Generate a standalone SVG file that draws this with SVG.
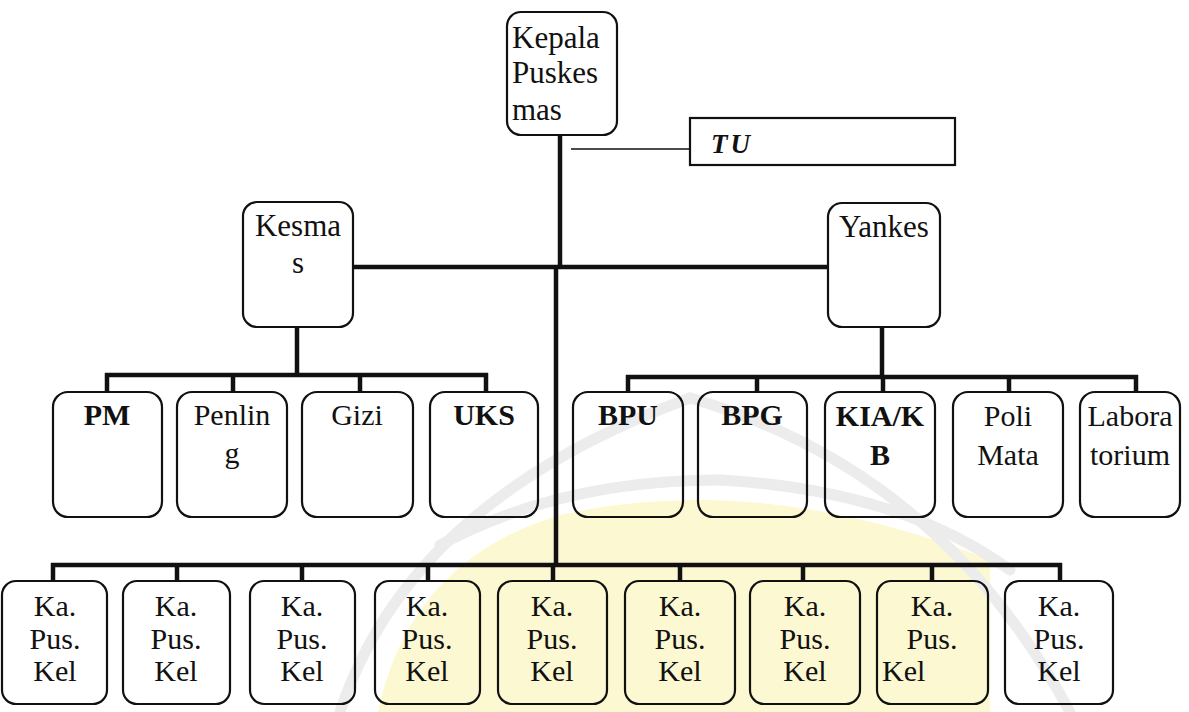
<svg xmlns="http://www.w3.org/2000/svg" width="1189" height="712" viewBox="0 0 1189 712">
<style>
.box{fill:none;stroke:#111;stroke-width:2.2}
.t{font-family:"Liberation Serif","Times New Roman",serif;font-size:30px;fill:#111;text-anchor:middle}
.tl{text-anchor:start}
.b{font-weight:bold}
.big{font-size:31px}
.con{stroke:#111;stroke-width:4.5;fill:none}
.thin{stroke:#111;stroke-width:1.6;fill:none}
.wm{fill:none;stroke:#ececec;stroke-width:11;stroke-linecap:round}
</style>
<rect width="1189" height="712" fill="#fff"/>
<g id="watermark">
<path d="M378,712 Q410,560 560,515 Q760,470 990,560 L990,712 Z" fill="#fcf8d2"/>
<path class="wm" d="M340,712 Q410,500 690,398"/>
<path class="wm" d="M690,398 Q940,470 1070,712"/>
<path class="wm" d="M440,545 Q560,480 720,480"/>
<path class="wm" d="M720,480 Q900,490 1010,570"/>
</g>
<g id="connectors">
<path class="con" d="M560,135 V268"/>
<path class="con" d="M556,266 V567"/>
<path class="con" d="M353,267 H828"/>
<path class="con" d="M297,327 V375 M105,375 H488 M107,373 V392 M233,373 V392 M360,373 V392 M486,373 V392"/>
<path class="con" d="M882,327 V377 M626,377 H1138 M628,375 V392 M757,375 V392 M883,375 V392 M1009,375 V392 M1136,375 V392"/>
<path class="con" d="M51,565 H1062 M53,563 V581 M177,563 V581 M302,563 V581 M428,563 V581 M553,563 V581 M680,563 V581 M803,563 V581 M932,563 V581 M1060,563 V581"/>
<path class="thin" d="M571,149 H690"/>
</g>
<g id="kepala"><rect class="box" x="507" y="12" width="110" height="123" rx="14"/>
<text class="t tl big" x="512" y="48">Kepala</text><text class="t tl big" x="512" y="83">Puskes</text><text class="t tl big" x="512" y="120">mas</text></g>
<g id="tu"><rect class="box" x="690" y="118" width="265" height="47"/>
<text class="t tl b" x="711" y="153" style="font-style:italic;font-size:27px;letter-spacing:3px">TU</text></g>
<g id="kesmas"><rect class="box" x="243" y="202" width="110" height="125" rx="14"/>
<text class="t big" x="298" y="236">Kesma</text><text class="t big" x="298" y="273">s</text></g>
<g id="yankes"><rect class="box" x="828" y="203" width="112" height="124" rx="14"/>
<text class="t big" x="884" y="237">Yankes</text></g>
<g id="pm"><rect class="box" x="53" y="392" width="109" height="125" rx="15"/><text class="t b" x="107" y="425">PM</text></g>
<g id="penling"><rect class="box" x="177" y="392" width="110" height="125" rx="15"/><text class="t" x="232" y="425">Penlin</text><text class="t" x="232" y="463">g</text></g>
<g id="gizi"><rect class="box" x="302" y="392" width="111" height="125" rx="15"/><text class="t" x="357" y="425">Gizi</text></g>
<g id="uks"><rect class="box" x="430" y="392" width="108" height="125" rx="15"/><text class="t b" x="484" y="425">UKS</text></g>
<g id="bpu"><rect class="box" x="573" y="392" width="110" height="125" rx="15"/><text class="t b" x="628" y="425">BPU</text></g>
<g id="bpg"><rect class="box" x="698" y="392" width="109" height="125" rx="15"/><text class="t b" x="752" y="425">BPG</text></g>
<g id="kia"><rect class="box" x="825" y="392" width="110" height="125" rx="15"/><text class="t b" x="880" y="426">KIA/K</text><text class="t b" x="880" y="465">B</text></g>
<g id="poli"><rect class="box" x="953" y="392" width="110" height="125" rx="15"/><text class="t" x="1008" y="426">Poli</text><text class="t" x="1008" y="465">Mata</text></g>
<g id="lab"><rect class="box" x="1080" y="392" width="100" height="125" rx="15"/><text class="t" x="1130" y="426">Labora</text><text class="t" x="1130" y="465">torium</text></g>
<g id="kel1"><rect class="box" x="2" y="581" width="105" height="123" rx="14"/><text class="t" x="55" y="616">Ka.</text><text class="t" x="55" y="649">Pus.</text><text class="t" x="55" y="681">Kel</text></g>
<g id="kel2"><rect class="box" x="123" y="581" width="107" height="123" rx="14"/><text class="t" x="176" y="616">Ka.</text><text class="t" x="176" y="649">Pus.</text><text class="t" x="176" y="681">Kel</text></g>
<g id="kel3"><rect class="box" x="250" y="581" width="105" height="123" rx="14"/><text class="t" x="302" y="616">Ka.</text><text class="t" x="302" y="649">Pus.</text><text class="t" x="302" y="681">Kel</text></g>
<g id="kel4"><rect class="box" x="375" y="581" width="105" height="123" rx="14"/><text class="t" x="427" y="616">Ka.</text><text class="t" x="427" y="649">Pus.</text><text class="t" x="427" y="681">Kel</text></g>
<g id="kel5"><rect class="box" x="498" y="581" width="109" height="123" rx="14"/><text class="t" x="552" y="616">Ka.</text><text class="t" x="552" y="649">Pus.</text><text class="t" x="552" y="681">Kel</text></g>
<g id="kel6"><rect class="box" x="625" y="581" width="110" height="123" rx="14"/><text class="t" x="680" y="616">Ka.</text><text class="t" x="680" y="649">Pus.</text><text class="t" x="680" y="681">Kel</text></g>
<g id="kel7"><rect class="box" x="750" y="581" width="110" height="123" rx="14"/><text class="t" x="805" y="616">Ka.</text><text class="t" x="805" y="649">Pus.</text><text class="t" x="805" y="681">Kel</text></g>
<g id="kel8"><rect class="box" x="877" y="581" width="111" height="123" rx="14"/><text class="t" x="932" y="616">Ka.</text><text class="t" x="932" y="649">Pus.</text><text class="t tl" x="882" y="681">Kel</text></g>
<g id="kel9"><rect class="box" x="1005" y="581" width="108" height="123" rx="14"/><text class="t" x="1059" y="616">Ka.</text><text class="t" x="1059" y="649">Pus.</text><text class="t" x="1059" y="681">Kel</text></g>
</svg>
